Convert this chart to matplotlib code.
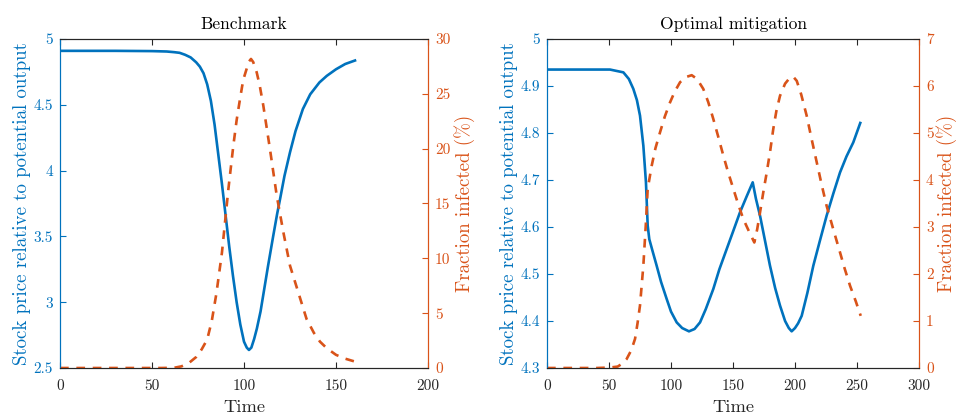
import matplotlib
matplotlib.use("Agg")
import matplotlib.pyplot as plt

plt.rcParams['font.family'] = ['cmr10', 'DejaVu Serif']
plt.rcParams['axes.formatter.use_mathtext'] = True
plt.rcParams['mathtext.fontset'] = 'cm'

BLUE = '#0072BD'
ORANGE = '#D95319'
DARK = '#262626'

# ---- Benchmark ----
bench_t_price = [0, 30, 50, 58, 62, 65, 68, 71, 74, 76, 78, 80, 82, 84, 86, 88, 90, 92, 94, 96, 98, 100,
                 101.5, 102.7, 104, 105.5, 107, 109, 111, 113, 115.9, 118, 119.6, 122, 125, 128, 132, 136,
                 141, 145, 150, 155, 161]
bench_price = [4.91, 4.91, 4.908, 4.905, 4.9, 4.895, 4.88, 4.86, 4.823, 4.79, 4.74, 4.655, 4.53, 4.35, 4.125,
               3.9, 3.66, 3.42, 3.2, 3.0, 2.83, 2.7, 2.655, 2.637, 2.655, 2.72, 2.80, 2.93, 3.10, 3.27,
               3.505, 3.67, 3.784, 3.96, 4.139, 4.3, 4.468, 4.58, 4.67, 4.72, 4.77, 4.81, 4.84]

bench_t_inf = [0, 20, 40, 55, 62, 66, 70, 74, 77, 80, 82.5, 85, 88, 91.5, 94.2, 96, 97.8, 99, 100, 101.4,
               102.5, 103.8, 105, 106.9, 108.5, 110.5, 114.1, 117.8, 121.4, 125, 129.5, 134, 138, 141.3,
               145, 150, 155, 161]
bench_inf = [0, 0, 0, 0, 0.02, 0.15, 0.45, 1.0, 1.7, 2.6, 4.3, 6.8, 10.5, 16.3, 20.27, 22.6, 24.5, 25.7,
             26.5, 27.26, 27.9, 28.18, 27.9, 26.96, 25.8, 23.92, 19.97, 15.71, 12.37, 9.33, 6.9, 4.47, 3.2,
             2.4, 1.8, 1.2, 0.85, 0.55]

# ---- Optimal mitigation ----
opt_t_price = [0, 20, 40, 50.8, 61.6, 66, 69.6, 72.5, 75, 77.7, 79.8, 81.2, 82.5, 85, 88.4, 92, 96.5, 100,
               104.6, 109, 114.5, 119, 123.4, 128, 134.1, 139, 144.9, 150, 155.6, 161, 165.9, 168.5, 171.8,
               175.5, 179.8, 184, 187.9, 192, 195, 197.3, 200, 202.5, 205.4, 210, 214.8, 220, 225.5, 231,
               236.3, 241.5, 247, 253]
opt_price = [4.935, 4.935, 4.935, 4.935, 4.929, 4.915, 4.894, 4.87, 4.837, 4.773, 4.695, 4.603, 4.574, 4.55,
             4.518, 4.483, 4.447, 4.42, 4.397, 4.385, 4.378, 4.383, 4.397, 4.425, 4.468, 4.51, 4.553, 4.59,
             4.631, 4.665, 4.695, 4.66, 4.624, 4.575, 4.518, 4.47, 4.433, 4.40, 4.385, 4.378, 4.385, 4.395,
             4.411, 4.46, 4.518, 4.57, 4.624, 4.672, 4.716, 4.75, 4.78, 4.824]

opt_t_inf = [0, 20, 40, 50.8, 57, 61, 64.2, 68, 71, 73, 75, 77.7, 79.8, 81.2, 84.4, 87.5, 91.1, 95, 99.2, 103,
             107.3, 112, 116.7, 121, 126, 130, 134.1, 138, 142.2, 146, 150.3, 154, 158.3, 163, 167.2, 169.5,
             171.8, 174.5, 177.2, 180, 182.5, 185, 187.9, 192, 196, 198.5, 201.4, 205, 209.4, 213,
             217.5, 221.5, 225.5, 231, 236.3, 240, 244.4, 249, 253]
opt_inf = [0, 0, 0, 0.01, 0.03, 0.1, 0.19, 0.38, 0.62, 0.95, 1.33, 2.18, 3.1, 3.81, 4.3, 4.68, 5.01, 5.35,
           5.65, 5.88, 6.08, 6.19, 6.23, 6.15, 5.94, 5.66, 5.3, 4.93, 4.52, 4.17, 3.81, 3.5, 3.17, 2.9, 2.67,
           2.95, 3.31, 3.75, 4.16, 4.62, 5.09, 5.47, 5.79, 6.05, 6.18, 6.2, 6.11, 5.82, 5.37, 4.92, 4.38,
           3.9, 3.45, 2.94, 2.46, 2.12, 1.75, 1.42, 1.11]

panels = [
    dict(title='Benchmark', tp=bench_t_price, p=bench_price, ti=bench_t_inf, i=bench_inf,
         xlim=(0, 200), xticks=[0, 50, 100, 150, 200],
         ylim=(2.5, 5), yticks=[2.5, 3, 3.5, 4, 4.5, 5],
         y2lim=(0, 30), y2ticks=[0, 5, 10, 15, 20, 25, 30],
         pos=[60 / 956, 48 / 416, 368 / 956, 329 / 416], r_pad=3),
    dict(title='Optimal mitigation', tp=opt_t_price, p=opt_price, ti=opt_t_inf, i=opt_inf,
         xlim=(0, 300), xticks=[0, 50, 100, 150, 200, 250, 300],
         ylim=(4.3, 5), yticks=[4.3, 4.4, 4.5, 4.6, 4.7, 4.8, 4.9, 5],
         y2lim=(0, 7), y2ticks=[0, 1, 2, 3, 4, 5, 6, 7],
         pos=[547 / 956, 48 / 416, 372 / 956, 329 / 416], r_pad=1.5),
]

fig = plt.figure(figsize=(9.56, 4.16), dpi=100)
FS = 11

for pd_ in panels:
    ax = fig.add_axes(pd_['pos'])
    ax2 = ax.twinx()
    ax.plot(pd_['tp'], pd_['p'], color=BLUE, lw=1.9, solid_capstyle='butt')
    ax2.plot(pd_['ti'], pd_['i'], color=ORANGE, lw=1.9, linestyle=(0, (3.3, 2.9)))
    ax.set_xlim(*pd_['xlim'])
    ax.set_ylim(*pd_['ylim'])
    ax2.set_ylim(*pd_['y2lim'])
    ax.set_xticks(pd_['xticks'])
    ax.set_xticklabels([str(v) for v in pd_['xticks']])
    ax.set_yticks(pd_['yticks'])
    ax.set_yticklabels([f'{v:g}' for v in pd_['yticks']])
    ax2.set_yticks(pd_['y2ticks'])
    ax2.set_yticklabels([str(v) for v in pd_['y2ticks']])

    ax.tick_params(axis='x', direction='in', length=4, top=True, colors=DARK, labelsize=FS, width=0.8, pad=8)
    ax.tick_params(axis='y', direction='in', length=4, colors=BLUE, labelsize=FS, width=0.8, pad=5)
    ax2.tick_params(axis='y', direction='in', length=4, colors=ORANGE, labelsize=FS, width=0.8, pad=5)

    for a in (ax, ax2):
        a.spines['top'].set_color(DARK)
        a.spines['bottom'].set_color(DARK)
        for s in a.spines.values():
            s.set_linewidth(0.8)
    ax.spines['left'].set_color(BLUE)
    ax2.spines['left'].set_color(BLUE)
    ax.spines['right'].set_color(ORANGE)
    ax2.spines['right'].set_color(ORANGE)

    ax.set_title(pd_['title'], fontsize=12.6, color='black', pad=7)
    ax.set_xlabel('Time', fontsize=13.3, color=DARK, labelpad=5)
    ax.set_ylabel('Stock price relative to potential output', fontsize=13.6, color=BLUE, labelpad=2)
    ax2.set_ylabel('Fraction infected (%)', fontsize=13.6, color=ORANGE, labelpad=pd_['r_pad'])

fig.savefig('out.png', dpi=100, facecolor='white')
